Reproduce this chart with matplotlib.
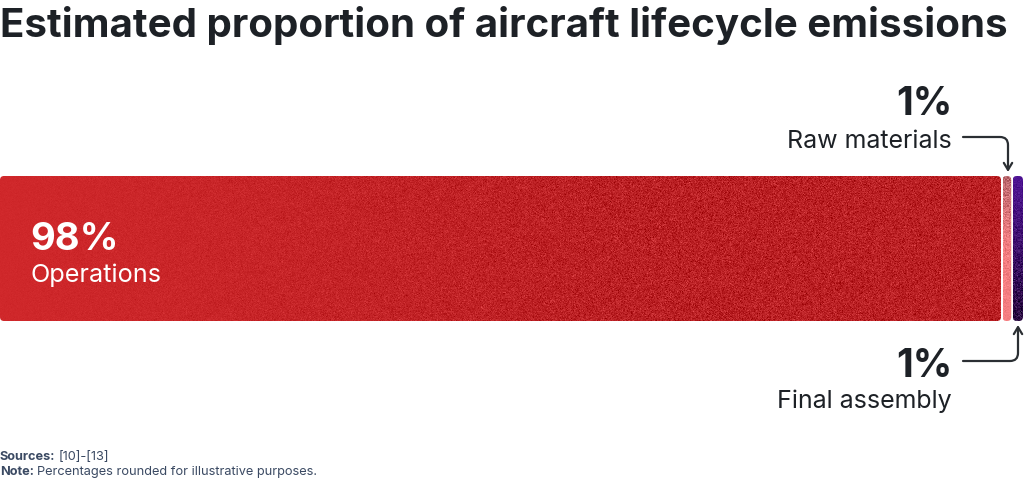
import numpy as np
import matplotlib.pyplot as plt
from matplotlib.patches import FancyBboxPatch
from matplotlib.colors import to_rgb

# data
labels = ['Operations', 'Raw materials', 'Final assembly']
shares = [98, 1, 1]
pct_labels = ['98%', '1%', '1%']
title = 'Estimated proportion of aircraft lifecycle emissions'
sources = '[10]-[13]'
note = 'Percentages rounded for illustrative purposes.'

plt.rcParams['font.family'] = ['Inter', 'DejaVu Sans']
TXT = '#1d2126'
NOTE = '#3b4a63'
W, H = 1024, 481

fig = plt.figure(figsize=(W / 100, H / 100), dpi=100)
ax = fig.add_axes([0, (H - 322) / H, 1023 / W, 145 / H])
ax.set_xlim(0, 100)
ax.set_ylim(-0.5, 0.5)
ax.axis('off')

gap = 0.15
lefts = np.concatenate([[0], np.cumsum(shares)[:-1]])
widths = [s - gap if i < len(shares) - 1 else s for i, s in enumerate(shares)]
bars = ax.barh(0, widths, left=lefts, height=1.0)

rng = np.random.default_rng(7)


def texture(kind, h, w):
    xs = np.linspace(0, 1, w)[None, :, None]
    ys = np.linspace(0, 1, h)[:, None, None]
    if kind == 0:
        c0, c1 = np.array(to_rgb('#d0282b')), np.array(to_rgb('#ba2024'))
        base = c0 + (c1 - c0) * np.clip(xs * 1.6, 0, 1)
        amp = 0.005 + 0.045 * np.clip(xs * 1.5, 0, 1)
    elif kind == 1:
        c0, c1 = np.array(to_rgb('#bd6a70')), np.array(to_rgb('#f57e81'))
        base = c0 + (c1 - c0) * np.clip(ys * 2, 0, 1)
        amp = 0.06 * (1 - ys) + 0.015
    else:
        c0, c1 = np.array(to_rgb('#4f1494')), np.array(to_rgb('#2a0a40'))
        base = c0 + (c1 - c0) * ys
        amp = 0.02 + 0.06 * ys
    noise = rng.normal(0, 1, (h, w, 1)) * amp
    return np.clip(base + noise, 0, 1)


r_px = 4
for i, b in enumerate(bars):
    x0, y0 = b.get_x(), b.get_y()
    bw, bh = b.get_width(), b.get_height()
    b.set_visible(False)
    patch = FancyBboxPatch((x0, y0), bw, bh,
                           boxstyle=f'round,pad=0,rounding_size={r_px / 10.23}',
                           mutation_aspect=10.23 / 145, fc='none', ec='none')
    ax.add_patch(patch)
    wpx = max(int(bw * 10.23), 4)
    im = ax.imshow(texture(i, 145, wpx), extent=(x0, x0 + bw, y0, y0 + bh),
                   aspect='auto', interpolation='nearest', origin='upper')
    im.set_clip_path(patch)

# overlay in pixel coordinates for text and callouts
ov = fig.add_axes([0, 0, 1, 1], zorder=5)
ov.set_xlim(0, W)
ov.set_ylim(H, 0)
ov.axis('off')

ov.text(0, 37, title, fontsize=29, fontweight='bold', color=TXT, va='baseline')

ov.text(30, 250, pct_labels[0], fontsize=27.5, fontweight='bold', color='white', va='baseline')
ov.text(30, 282, labels[0], fontsize=18.2, color='white', va='baseline')

ov.text(952, 115, pct_labels[1], fontsize=28, fontweight='bold', color=TXT, va='baseline', ha='right')
ov.text(952, 148, labels[1], fontsize=18, color=TXT, va='baseline', ha='right')
ov.text(952, 377, pct_labels[2], fontsize=28, fontweight='bold', color=TXT, va='baseline', ha='right')
ov.text(952, 408, labels[2], fontsize=18, color=TXT, va='baseline', ha='right')

arrow = dict(arrowstyle='->,head_length=0.5,head_width=0.3', color='#2b2f33', lw=1.6,
             shrinkA=0, shrinkB=0)
ov.annotate('', xy=(1008, 173), xytext=(963, 138),
            arrowprops=dict(connectionstyle='angle,angleA=0,angleB=90,rad=8', **arrow))
ov.annotate('', xy=(1018, 326), xytext=(963, 362),
            arrowprops=dict(connectionstyle='angle,angleA=0,angleB=90,rad=8', **arrow))

fig.canvas.draw()
rend = fig.canvas.get_renderer()
inv = ov.transData.inverted()
t1 = ov.text(0, 460, 'Sources:', fontsize=9.2, fontweight='bold', color=NOTE, va='baseline')
t2 = ov.text(0, 475, 'Note:', fontsize=9.2, fontweight='bold', color=NOTE, va='baseline')
for t, s, y in [(t1, sources, 460), (t2, note, 475)]:
    x1 = inv.transform(t.get_window_extent(rend).get_points()[1])[0]
    ov.text(x1 + 3, y, s, fontsize=9.2, color=NOTE, va='baseline')

fig.savefig('out.png', dpi=100)
